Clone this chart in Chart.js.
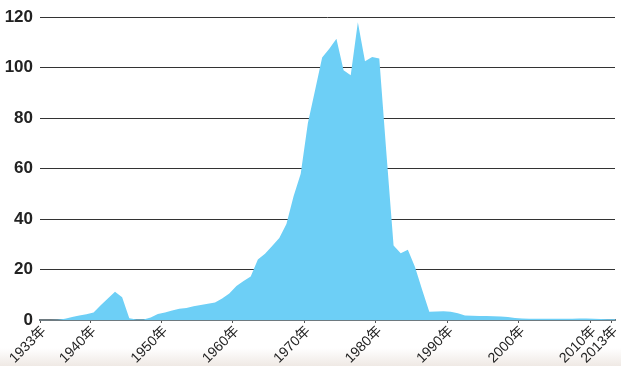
<!DOCTYPE html>
<html>
<head>
<meta charset="utf-8">
<script src="https://cdn.jsdelivr.net/npm/chart.js@4/dist/chart.umd.min.js"></script>
<style>
  html, body { margin: 0; padding: 0; }
  body {
    width: 621px; height: 366px; overflow: hidden;
    background: linear-gradient(to bottom, #ffffff 0px, #ffffff 348px, #efe9e4 366px);
  }
  #wrap { position: relative; width: 621px; height: 366px; }
</style>
</head>
<body>
<div id="wrap"><canvas id="c" width="621" height="366"></canvas></div>
<script>
const years = [];
for (let y = 1933; y <= 2013; y++) years.push(y);

const values = [
  0, 0, 0.1, 0.5, 1.2, 1.8, 2.3,            // 1933-1939
  3.0, 5.8, 8.5, 11.2, 9.0, 0.7, 0.2, 0.2, 1.0, 2.4,   // 1940-1949
  3.0, 3.8, 4.5, 4.8, 5.4, 5.9, 6.4, 6.9, 8.5, 10.5,   // 1950-1959
  13.5, 15.5, 17.2, 24, 26.3, 29.3, 32.5, 38, 49, 58,  // 1960-1969
  78, 91, 104, 107.5, 111.5, 99, 97, 118, 102.5, 104.2, // 1970-1979
  103.6, 66, 29.5, 26.5, 27.8, 21, 12, 3.3, 3.4, 3.5,  // 1980-1989
  3.3, 2.7, 1.8, 1.7, 1.6, 1.6, 1.5, 1.4, 1.2, 0.8,    // 1990-1999
  0.6, 0.5, 0.5, 0.5, 0.5, 0.5, 0.5, 0.5, 0.6, 0.6,    // 2000-2009
  0.5, 0.4, 0.3, 0.3                                   // 2010-2013
];

const xTickYears = [1933, 1940, 1950, 1960, 1970, 1980, 1990, 2000, 2010, 2013];
const yTicks = [0, 20, 40, 60, 80, 100, 120];
const yearSuffix = '年';

// each yearly value is plotted at the middle of its year
const points = years.map((y, i) => ({ x: y + 0.5, y: values[i] }));

new Chart(document.getElementById('c'), {
  type: 'line',
  data: {
    datasets: [{
      data: points,
      fill: 'origin',
      backgroundColor: '#6dcff6',
      borderColor: '#6dcff6',
      borderWidth: 0,
      pointRadius: 0,
      tension: 0
    }]
  },
  options: {
    responsive: false,
    animation: false,
    events: [],
    layout: { padding: { left: 0, right: 6, top: 9, bottom: 0 } },
    plugins: { legend: { display: false }, tooltip: { enabled: false } },
    scales: {
      x: {
        type: 'linear',
        min: 1933,
        max: 2013.5,
        afterBuildTicks: (s) => { s.ticks = xTickYears.map(v => ({ value: v })); },
        afterFit: (s) => { s.height = 46; s.paddingLeft = 0; s.paddingRight = 0; },
        grid: { display: true, drawOnChartArea: false, drawTicks: true, tickLength: 3, color: '#555' },
        border: { display: true, color: '#6e7a80', width: 2 },
        ticks: {
          autoSkip: false,
          maxRotation: 45,
          minRotation: 45,
          padding: 0,
          labelOffset: 4,
          color: '#222',
          font: { family: 'Liberation Sans, Noto Sans CJK JP', size: 14 },
          callback: (v) => v + yearSuffix
        }
      },
      y: {
        min: 0,
        max: 120,
        afterBuildTicks: (s) => { s.ticks = yTicks.map(v => ({ value: v })); },
        afterFit: (s) => { s.width = 40; },
        grid: { color: '#333', lineWidth: 1, drawTicks: false },
        border: { display: false },
        ticks: {
          padding: 7,
          color: '#222',
          font: { family: 'Liberation Sans Narrow, Liberation Sans', size: 17, weight: 'bold' }
        }
      }
    }
  }
});
</script>
</body>
</html>
